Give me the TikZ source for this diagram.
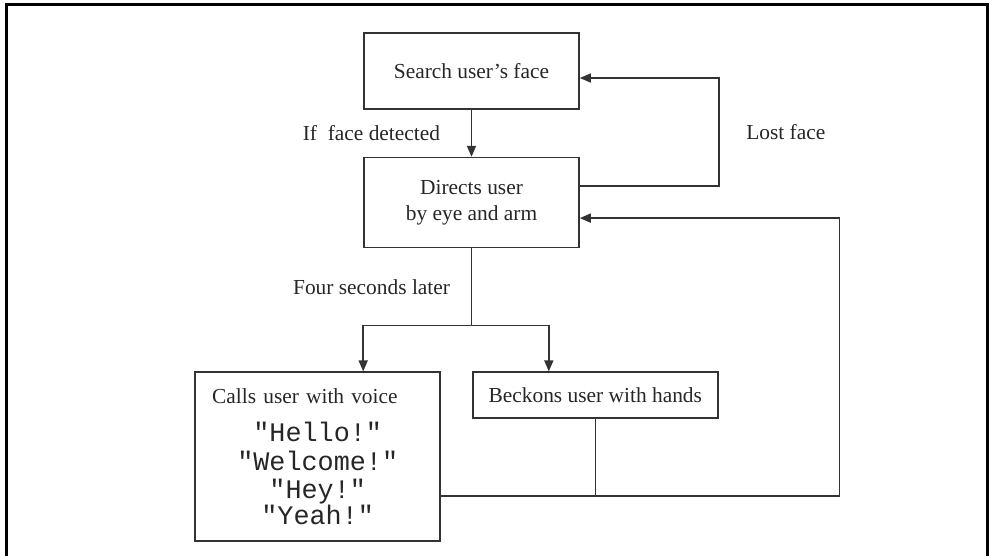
\documentclass[tikz,border=0pt]{standalone}
\usepackage{fontspec}
\setmainfont{Liberation Serif}
\setmonofont{Liberation Mono}
\usetikzlibrary{positioning,arrows.meta}

\begin{document}
\begin{tikzpicture}
	[x=0.5pt, y=-0.5pt, >={Triangle[length=5.5pt,width=4.5pt]},
	 font=\fontsize{10.7}{13}\selectfont, text=black!85,
	 box/.style={draw=black!80, line width=0.8pt, align=center, inner sep=0pt},
	 link/.style={draw=black!80, line width=0.8pt}]
	\useasboundingbox (0,0) rectangle (990,556);
	\draw[line width=1.5pt] (6,556) -- (6,5) -- (987,5) -- (987,556);

	\node[box, minimum width=107.5pt, minimum height=38pt] (search) at (471.5,71) {Search user's face};
	\node[box, minimum width=107.5pt, minimum height=45pt, below=23.5pt of search] (direct) {Directs user\\by eye and arm};
	\node[box, text width=105.5pt, inner xsep=8.5pt, minimum height=84.5pt,
		below left=61.5pt and 15.25pt of direct.south] (calls)
		{\makebox[\linewidth][l]{Calls user with voice}\\[5pt]
		 \ttfamily\fontsize{13.4}{14.3}\selectfont "Hello!"\\"Welcome!"\\"Hey!"\\"Yeah!"};
	\node[box, minimum width=122.5pt, minimum height=23pt, below right=61.5pt and 0.25pt of direct.south] (beckon) {Beckons user with hands};

	\coordinate (split) at ([yshift=-38.5pt]direct.south);
	\coordinate (merge) at ([yshift=-38.5pt]beckon.south);
	\coordinate (back) at ([xshift=60.5pt]beckon.east |- merge);

	\draw[link,->] (search) -- node[left=12pt] {If~ face detected} (direct);
	\draw[link,->] ([yshift=8.25pt]direct.east) -- ++(69.5pt,0)
		|- node[pos=0.25, right=10pt] {Lost face} ([yshift=-3.5pt]search.east);
	\draw[link] (direct.south) -- node[left=7pt] {Four seconds later} (split);
	\draw[link,->] (split) -| (direct.south west |- calls.north);
	\draw[link,->] (split) -| ([xshift=-23.25pt]beckon.north);
	\draw[link] (beckon.south) -- (merge);
	\draw[link,->] (calls.east |- merge) -- (back) |- ([yshift=-7.75pt]direct.east);
\end{tikzpicture}
\end{document}
